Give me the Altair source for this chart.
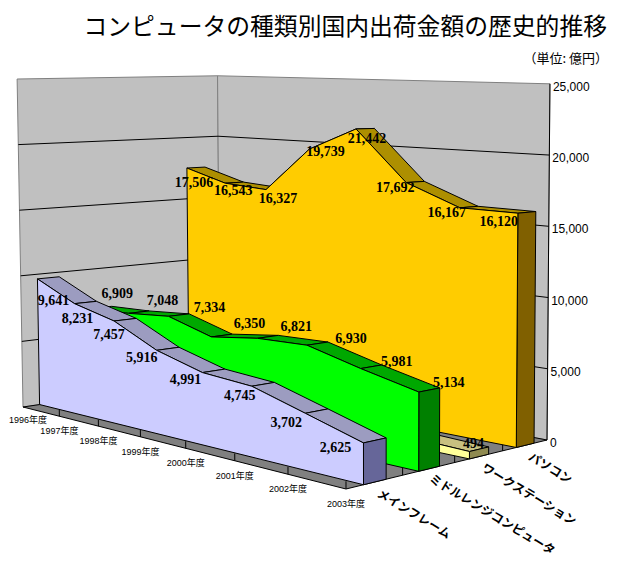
import altair as alt
import pandas as pd

W, H = 601, 550
YEARS = ["1996年度", "1997年度", "1998年度", "1999年度", "2000年度", "2001年度", "2002年度", "2003年度"]
SERIES = ["メインフレーム", "ミドルレンジコンピュータ", "ワークステーション", "パソコン"]
MAINFRAME = [9641, 8231, 7457, 5916, 4991, 4745, 3702, 2625]
MIDRANGE = [6909, 7048, 7334, 6350, 6821, 6930, 5981, 5134]
WORKSTATION = [1000, 950, 900, 850, 800, 750, 620, 494]  # only the last value is legible
PC = [17506, 16543, 16327, 19739, 21442, 17692, 16167, 16120]
VALUE_TICKS = [0, 5000, 10000, 15000, 20000, 25000]


def project(i, d, v):
    u, w = i / 7, d / 4
    den = 1 - 0.2383 * u + 0.1342 * w
    a = (1 - u) * (1 - w) * 23 + u * (1 - w) * 346 * 0.7617 + u * w * 547 * 0.8959 + (1 - u) * w * 220 * 1.1342
    b = (1 - u) * (1 - w) * 407 + u * (1 - w) * 489 * 0.7617 + u * w * 440 * 0.8959 + (1 - u) * w * 378 * 1.1342
    fx, fy = a / den, b / den
    h = v * 0.01312 / den ** (0.75 if den < 1 else 0.65)
    return fx + h * (fx - 382) / 20000 - 8, fy - h - 8


sx = alt.Scale(domain=[0, W], range=[0, W], nice=False, zero=False)
sy = alt.Scale(domain=[0, H], range=[0, H], nice=False, zero=False)
X = alt.X("x:Q", scale=sx, axis=None)
Y = alt.Y("y:Q", scale=sy, axis=None)


def polys(shapes, fill, stroke="black", sw=1.0):
    rows = []
    for k, pts in enumerate(shapes):
        for n, (x, y) in enumerate(pts):
            rows.append({"x": x, "y": y, "k": k, "n": n})
    return alt.Chart(pd.DataFrame(rows)).mark_line(
        fill=fill, stroke=stroke, strokeWidth=sw, interpolate="linear-closed"
    ).encode(x=X, y=Y, detail="k:N", order="n:Q")


def lines(segs, color="black", sw=1.0):
    rows = []
    for k, pts in enumerate(segs):
        for n, (x, y) in enumerate(pts):
            rows.append({"x": x, "y": y, "k": k, "n": n})
    return alt.Chart(pd.DataFrame(rows)).mark_line(stroke=color, strokeWidth=sw).encode(
        x=X, y=Y, detail="k:N", order="n:Q"
    )


def texts(rows, **kw):
    return alt.Chart(pd.DataFrame(rows)).mark_text(**kw).encode(x=X, y=Y, text="t:N")


def slab(vals, d, top, side, front, thick=0.4):
    d0, d1 = d + 0.3, d + 0.3 + thick
    n = len(vals)
    tops = [[project(i, d0, vals[i]), project(i + 1, d0, vals[i + 1]),
             project(i + 1, d1, vals[i + 1]), project(i, d1, vals[i])] for i in range(n - 1)]
    sides = [[project(n - 1, d0, vals[-1]), project(n - 1, d1, vals[-1]),
              project(n - 1, d1, 0), project(n - 1, d0, 0)]]
    fr = [[project(i, d0, vals[i]) for i in range(n)] + [project(n - 1, d0, 0), project(0, d0, 0)]]
    return [polys(tops, top), polys(sides, side), polys(fr, front)]


layers = []
# walls
layers.append(polys([[project(0, 0, 0), project(0, 4, 0), project(0, 4, 25000), project(0, 0, 25000)]], "#C0C0C0", "#808080"))
layers.append(polys([[project(0, 4, 0), project(7, 4, 0), project(7, 4, 25000), project(0, 4, 25000)]], "#C0C0C0", "#808080"))
grid = []
for v in VALUE_TICKS[1:-1]:
    grid.append([project(0, 0, v), project(0, 4, v), project(7, 4, v)])
layers.append(lines(grid))
# floor
layers.append(polys([[project(0, 0, 0), project(7, 0, 0), project(7, 4, 0), project(0, 4, 0)]], "#808080"))
ticks = [[project(i, 0, 0), project(i, 0, 480)] for i in range(1, 8)]
ticks += [[project(7, d, 0), project(7, d, 480)] for d in range(1, 4)]
layers.append(lines(ticks))
# value axis
layers.append(lines([[project(7, 4, 0), project(7, 4, 25000)]]))
# slabs, back to front
layers += slab(PC, 3, "#AD8F00", "#806000", "#FFCC00")
layers += slab(WORKSTATION, 2, "#C8C080", "#8F8A50", "#FFFF99")
layers += slab(MIDRANGE, 1, "#00A800", "#008000", "#00FF00")
layers += slab(MAINFRAME, 0, "#9C9CC0", "#666699", "#CCCCFF")

# data labels
series_d = [(MAINFRAME, 0.3), (MIDRANGE, 1.3), (PC, 3.3)]
nudges = {
    0: [(16, 22), (3, 15), (-5, 14), (-15, 8), (-17, 7), (-12, 10), (-19, 10), (-28, 5)],
    1: [(26, -15), (34, -12), (41, -8), (38, -13), (39, -11), (44, -6), (36, -7), (30, -9)],
    2: [(7, 15), (8, 8), (12, 9), (16, 3), (11, 10), (-11, 5), (-13, 5), (-19, 9)],
}
rows = []
for s, (vals, d) in enumerate(series_d):
    for i, v in enumerate(vals):
        x, y = project(i, d, v)
        rows.append({"x": x + nudges[s][i][0], "y": y + nudges[s][i][1], "t": f"{v:,}"})
x, y = project(7, 2.3, 494)
rows.append({"x": x + 4, "y": y - 8, "t": "494"})
layers.append(texts(rows, font="Liberation Serif", fontWeight="bold", fontSize=14, color="black", align="center", baseline="middle"))

# value axis labels
rows = []
for v in VALUE_TICKS:
    x, y = project(7, 4, v)
    rows.append({"x": x + 3, "y": y + 3, "t": f"{v:,}"})
layers.append(texts(rows, font="Liberation Sans", fontSize=12, color="black", align="left", baseline="middle"))

# year labels
rows = []
for i, t in enumerate(YEARS):
    x, y = project(i, 0, 0)
    rows.append({"x": x + (5 if i == 0 else 0), "y": y + (13 if i == 0 else 15), "t": t})
layers.append(texts(rows, font="Liberation Sans, Noto Sans CJK JP", fontSize=9, color="black", align="center", baseline="middle"))

# series labels
offs = [(39, 32), (63, 46), (50, 38), (25, 23)]
rows = []
for s, t in enumerate(SERIES):
    x, y = project(7, s + 0.5, 0)
    rows.append({"x": x + offs[s][0], "y": y + offs[s][1], "t": t})
layers.append(texts(rows, font="Noto Sans CJK JP", fontWeight="bold", fontSize=12, color="black", align="center", baseline="middle", angle=31))

title = alt.Chart(pd.DataFrame({"t": ["コンピュータの種類別国内出荷金額の歴史的推移"]})).mark_text(
    font="Noto Sans CJK JP", fontSize=23.8, color="black", align="right", baseline="middle"
).encode(x=alt.value(599), y=alt.value(20), text="t:N")
unit = alt.Chart(pd.DataFrame({"t": ["（単位: 億円）"]})).mark_text(
    font="Noto Sans CJK JP", fontSize=13, color="black", align="right", baseline="middle"
).encode(x=alt.value(600), y=alt.value(51), text="t:N")

chart = alt.layer(*layers, title, unit).properties(
    width=W, height=H, padding=0, autosize=alt.AutoSizeParams(type="none")
).configure_view(stroke=None)
chart.save("out.html", embed_options={"renderer": "svg", "actions": False})
